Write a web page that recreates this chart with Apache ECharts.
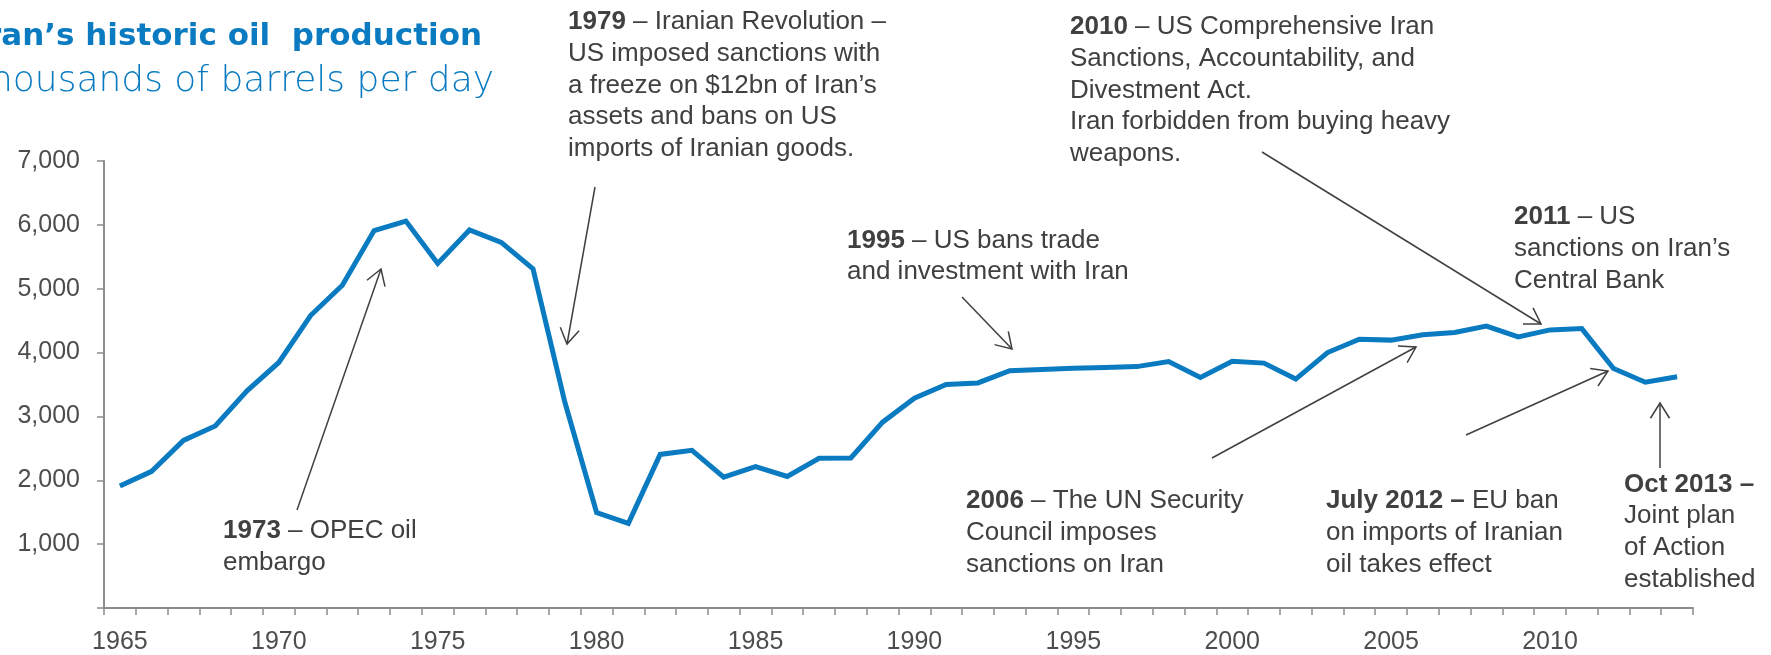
<!DOCTYPE html>
<html>
<head>
<meta charset="utf-8">
<script src="https://cdn.jsdelivr.net/npm/echarts@6/dist/echarts.min.js"></script>
<style>
  html, body { margin: 0; padding: 0; background: #fff; }
  #chart { width: 1771px; height: 655px; }
</style>
</head>
<body>
<div id="chart"></div>
<script>
// Iran's historic oil production, thousands of barrels per day

const years = [
  "1965", "1966", "1967", "1968", "1969", "1970", "1971", "1972", "1973", "1974",
  "1975", "1976", "1977", "1978", "1979", "1980", "1981", "1982", "1983", "1984",
  "1985", "1986", "1987", "1988", "1989", "1990", "1991", "1992", "1993", "1994",
  "1995", "1996", "1997", "1998", "1999", "2000", "2001", "2002", "2003", "2004",
  "2005", "2006", "2007", "2008", "2009", "2010", "2011", "2012", "2013", "2014",
];

const production = [
  1910, 2140, 2625, 2850, 3400, 3845, 4580, 5055, 5910, 6060,
  5395, 5920, 5725, 5310, 3225, 1495, 1325, 2405, 2470, 2050,
  2215, 2060, 2345, 2350, 2910, 3285, 3500, 3525, 3715, 3735,
  3755, 3765, 3780, 3860, 3610, 3865, 3835, 3585, 4000, 4210,
  4195, 4280, 4315, 4415, 4245, 4355, 4375, 3750, 3535, 3620,
];

const yTicks = [0, 1000, 2000, 3000, 4000, 5000, 6000, 7000];

const titleText = "Iran\u2019s historic oil  production";
const subtitleText = "thousands of barrels per day";

// annotation texts: bold lead + rest of first line, then further lines
const noteTexts = {
  n1973: { lead: "1973", lines: [" \u2013 OPEC oil", "embargo"] },
  n1979: { lead: "1979", lines: [" \u2013 Iranian Revolution \u2013", "US imposed sanctions with", "a freeze on $12bn of Iran\u2019s", "assets and bans on US", "imports of Iranian goods."] },
  n1995: { lead: "1995", lines: [" \u2013 US bans trade", "and investment with Iran"] },
  n2006: { lead: "2006", lines: [" \u2013 The UN Security", "Council imposes", "sanctions on Iran"] },
  n2010: { lead: "2010", lines: [" \u2013 US Comprehensive Iran", "Sanctions, Accountability, and", "Divestment Act.", "Iran forbidden from buying heavy", "weapons."] },
  n2011: { lead: "2011", lines: [" \u2013 US", "sanctions on Iran\u2019s", "Central Bank"] },
  n2012: { lead: "July 2012 \u2013", lines: [" EU ban", "on imports of Iranian", "oil takes effect"] },
  n2013: { lead: "Oct 2013 \u2013", lines: ["", "Joint plan", "of Action", "established"] },
};

// ---------------- layout (pixels) ----------------

const BLUE = "#0a7bc1";
const TEXT = "#404040";
const AXIS = "#8c8c8c";
const FONT = "'Liberation Sans', Arial, sans-serif";
const LINE_H = 31.7;

const noteLayout = {
  n1973: { x: 223, y: 531, arrow: [[297, 510], [381, 269]] },
  n1979: { x: 568, y: 22, arrow: [[595, 187], [567, 344]] },
  n1995: { x: 847, y: 240.5, arrow: [[962, 297], [1012, 349]] },
  n2006: { x: 966, y: 501, arrow: [[1212, 458], [1416, 347]] },
  n2010: { x: 1070, y: 27, arrow: [[1262, 152], [1541, 324]] },
  n2011: { x: 1514, y: 217, arrow: null },
  n2012: { x: 1326, y: 501, arrow: [[1466, 435], [1608, 371]] },
  n2013: { x: 1624, y: 484.5, arrow: [[1660, 468], [1660, 403]] },
};

function arrowGraphics(from, to) {
  const [x1, y1] = from;
  const [x2, y2] = to;
  const ang = Math.atan2(y1 - y2, x1 - x2); // pointing back toward the tail
  const wing = 18;
  const spread = (32 * Math.PI) / 180;
  const w1 = [x2 + wing * Math.cos(ang + spread), y2 + wing * Math.sin(ang + spread)];
  const w2 = [x2 + wing * Math.cos(ang - spread), y2 + wing * Math.sin(ang - spread)];
  const style = { stroke: TEXT, lineWidth: 1.5, fill: null };
  return [
    { type: "line", shape: { x1, y1, x2, y2 }, style, silent: true },
    { type: "polyline", shape: { points: [w1, [x2, y2], w2] }, style, silent: true },
  ];
}

function noteGraphics(key) {
  const t = noteTexts[key];
  const l = noteLayout[key];
  const out = [];
  t.lines.forEach((line, i) => {
    const text = i === 0 ? `{b|${t.lead}}{n|${line}}` : `{n|${line}}`;
    out.push({
      type: "text",
      x: l.x,
      y: l.y + i * LINE_H,
      silent: true,
      style: {
        text,
        verticalAlign: "middle",
        align: "left",
        rich: {
          b: { fontFamily: FONT, fontSize: 26, fontWeight: "bold", fill: TEXT },
          n: { fontFamily: FONT, fontSize: 26, fill: TEXT },
        },
      },
    });
  });
  if (l.arrow) out.push(...arrowGraphics(l.arrow[0], l.arrow[1]));
  return out;
}

const graphics = [
  {
    type: "text", x: 482, y: 37, silent: true,
    style: {
      text: titleText, align: "right", verticalAlign: "middle",
      fontFamily: "'DejaVu Sans', sans-serif", fontSize: 31, fontWeight: "bold", fill: BLUE,
    },
  },
  {
    type: "text", x: 494, y: 82, silent: true,
    style: {
      text: subtitleText, align: "right", verticalAlign: "middle",
      fontFamily: "'DejaVu Sans', sans-serif", fontSize: 36, fontWeight: 200, fill: BLUE,
    },
  },
];
Object.keys(noteTexts).forEach((k) => graphics.push(...noteGraphics(k)));

// ---------------- chart ----------------

const chart = echarts.init(document.getElementById("chart"), null, { renderer: "canvas" });

chart.setOption({
  animation: false,
  backgroundColor: "#ffffff",
  grid: { left: 104, right: 78, top: 161, bottom: 45, containLabel: false },
  xAxis: {
    type: "category",
    data: years,
    boundaryGap: true,
    axisLine: { lineStyle: { color: AXIS, width: 2 } },
    axisTick: { show: true, interval: 0, length: 7, lineStyle: { color: AXIS, width: 1.5 } },
    axisLabel: {
      interval: 4, margin: 22, color: "#4d4d4d",
      fontFamily: FONT, fontSize: 25,
    },
    splitLine: { show: false },
  },
  yAxis: {
    type: "value",
    min: yTicks[0],
    max: yTicks[yTicks.length - 1],
    interval: 1000,
    axisLine: { show: true, lineStyle: { color: AXIS, width: 2 } },
    axisTick: { show: true, length: 7, lineStyle: { color: AXIS, width: 1.5 } },
    axisLabel: {
      margin: 24, color: "#4d4d4d", fontFamily: FONT, fontSize: 25,
      formatter: (v) => (v === 0 ? "" : v.toLocaleString("en-US")),
    },
    splitLine: { show: false },
  },
  series: [
    {
      type: "line",
      data: production,
      symbol: "none",
      smooth: false,
      lineStyle: { color: BLUE, width: 5, join: "miter" },
      itemStyle: { color: BLUE },
    },
  ],
  graphic: graphics,
});
</script>
</body>
</html>
